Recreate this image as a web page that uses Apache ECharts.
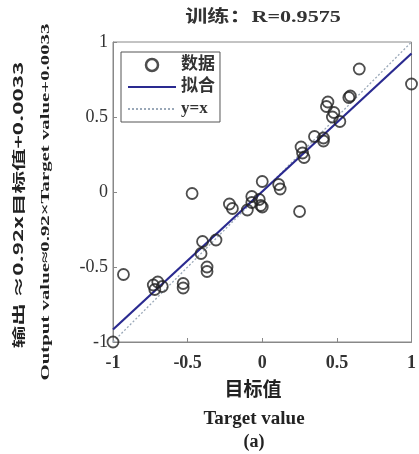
<!DOCTYPE html>
<html><head><meta charset="utf-8">
<script src="https://cdn.jsdelivr.net/npm/echarts@6/dist/echarts.min.js"></script>
<style>html,body{margin:0;padding:0;background:#fff}#c{width:419px;height:454px}</style>
</head><body><div id="c"></div>
<script>
// Data
const dataPoints = [
  [-1.00,-1.00],[-0.93,-0.55],[-0.73,-0.62],[-0.70,-0.60],[-0.72,-0.65],[-0.67,-0.63],
  [-0.53,-0.61],[-0.53,-0.64],[-0.37,-0.50],[-0.37,-0.53],[-0.41,-0.41],[-0.40,-0.33],
  [-0.31,-0.32],[-0.47,-0.01],[-0.22,-0.08],[-0.20,-0.11],[-0.10,-0.12],[-0.07,-0.03],
  [-0.02,-0.05],[-0.07,-0.07],[-0.01,-0.09],[0.00,-0.10],[0.00,0.07],[0.11,0.05],
  [0.12,0.02],[0.25,-0.13],[0.26,0.30],[0.27,0.26],[0.28,0.23],[0.35,0.37],
  [0.41,0.36],[0.41,0.34],[0.44,0.60],[0.43,0.57],[0.48,0.53],[0.47,0.50],
  [0.52,0.47],[0.58,0.63],[0.59,0.64],[0.65,0.82],[1.00,0.72]
];
const fitLine = [[-1, -0.917], [1, 0.923]];
const identityLine = [[-1, -1], [1, 1]];
const tickValues = [-1, -0.5, 0, 0.5, 1];
const tickLabels = ['-1', '-0.5', '0', '0.5', '1'];
const seriesNames = ['数据', '拟合', 'y=x'];
const titleText = '训练：R=0.9575';
const yNameLines = ['输出 ≈0.92x目标值+0.0033', 'Output value≈0.92×Target value+0.0033'];
const xNameLines = ['目标值', 'Target value', '(a)'];

const serif = '"Liberation Serif","Noto Sans CJK SC",serif';
const labelFmt = v => { const i = tickValues.indexOf(v); return i >= 0 ? tickLabels[i] : ''; };

const chart = echarts.init(document.getElementById('c'));
chart.setOption({
  animation: false,
  backgroundColor: '#fff',
  grid: { left: 113, right: 5, top: 42, bottom: 112, show: true, borderColor: '#888', borderWidth: 1 },
  legend: {
    orient: 'vertical', left: 121, top: 52,
    borderColor: '#555', borderWidth: 1, padding: [3, 5, 3, 6],
    itemWidth: 48, itemHeight: 12, itemGap: 2,
    textStyle: { fontFamily: serif, fontSize: 17, fontWeight: 'bold', color: '#333', lineHeight: 20 },
    data: [
      { name: seriesNames[0], icon: 'circle', itemStyle: { color: '#fff', borderColor: '#222', borderWidth: 2.5 } },
      { name: seriesNames[1], itemStyle: { opacity: 0 } },
      { name: seriesNames[2], itemStyle: { opacity: 0 } }
    ]
  },
  xAxis: {
    type: 'value', min: -1, max: 1, interval: 0.5,
    axisLine: { show: true, onZero: false, lineStyle: { color: '#888' } },
    axisTick: { show: true, inside: true, length: 4, lineStyle: { color: '#888' } },
    axisLabel: { formatter: labelFmt, fontFamily: serif, fontSize: 18, fontWeight: 'bold', color: '#333', margin: 12 },
    splitLine: { show: false }
  },
  yAxis: {
    type: 'value', min: -1, max: 1, interval: 0.5,
    axisLine: { show: true, onZero: false, lineStyle: { color: '#888' } },
    axisTick: { show: true, inside: true, length: 4, lineStyle: { color: '#888' } },
    axisLabel: { formatter: labelFmt, fontFamily: serif, fontSize: 18, color: '#333', margin: 5 },
    splitLine: { show: false }
  },
  graphic: [
    { type: 'text', x: 263, y: 18, scaleX: 1.3,
      style: { text: titleText, font: 'bold 17px "Liberation Serif","Noto Sans CJK SC"', fill: '#333', align: 'center', verticalAlign: 'middle' } },
    { type: 'text', x: 253, y: 389,
      style: { text: xNameLines[0], font: 'bold 19px "Noto Sans CJK SC"', fill: '#222', align: 'center', verticalAlign: 'middle' } },
    { type: 'text', x: 254, y: 419,
      style: { text: xNameLines[1], font: 'bold 19px "Liberation Serif"', fill: '#222', align: 'center', verticalAlign: 'middle' } },
    { type: 'text', x: 254, y: 442,
      style: { text: xNameLines[2], font: 'bold 18px "Liberation Serif"', fill: '#222', align: 'center', verticalAlign: 'middle' } },
    { type: 'text', x: 18, y: 205, rotation: Math.PI / 2, scaleX: 1.73,
      style: { text: yNameLines[0], font: 'bold 13px "Noto Sans CJK SC"', fill: '#222', align: 'center', verticalAlign: 'middle' } },
    { type: 'text', x: 46, y: 202, rotation: Math.PI / 2, scaleX: 1.6,
      style: { text: yNameLines[1], font: 'bold 13px "Liberation Serif"', fill: '#222', align: 'center', verticalAlign: 'middle' } }
  ],
  series: [
    {
      name: seriesNames[0], type: 'scatter', data: dataPoints, symbol: 'circle', symbolSize: 11,
      itemStyle: { color: 'rgba(0,0,0,0)', borderColor: '#222', borderWidth: 1.8 }, z: 3
    },
    {
      name: seriesNames[1], type: 'line', data: fitLine, symbol: 'none',
      lineStyle: { color: '#2a2a90', width: 2.2 }, itemStyle: { color: '#2a2a90' }, z: 2
    },
    {
      name: seriesNames[2], type: 'line', data: identityLine, symbol: 'none',
      lineStyle: { color: '#9aa8b8', width: 1.3, type: [2, 2] }, itemStyle: { color: '#9aa8b8' }, z: 1
    }
  ]
});
</script></body></html>
